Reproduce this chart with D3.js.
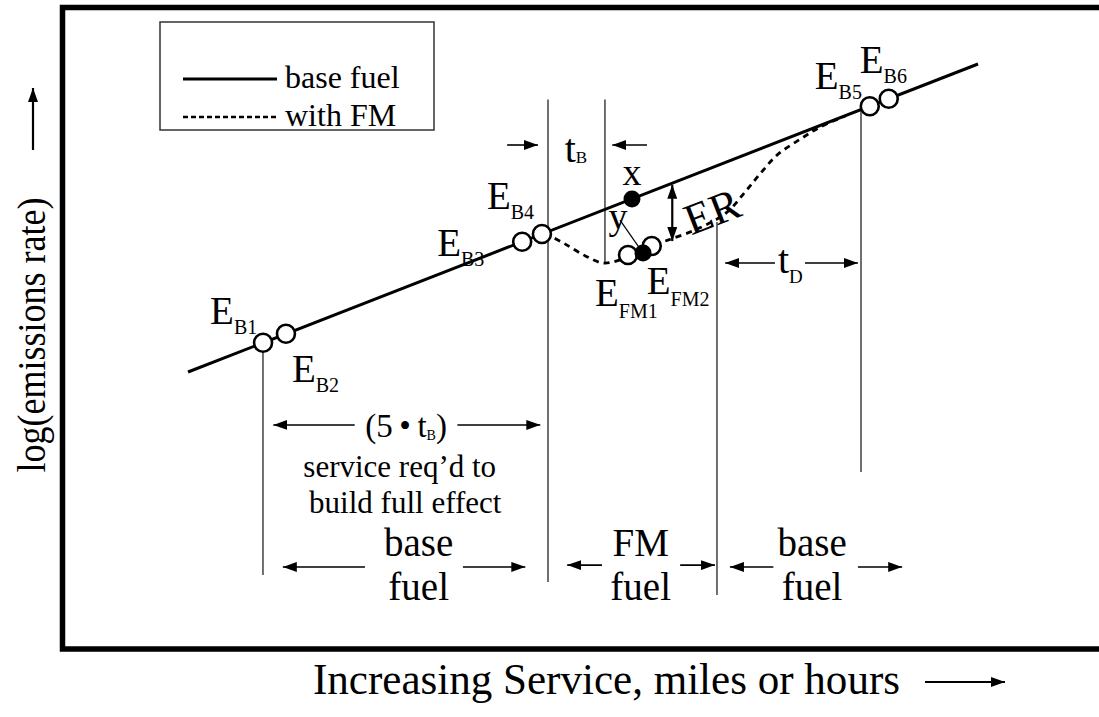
<!DOCTYPE html>
<html>
<head>
<meta charset="utf-8">
<script src="https://cdn.jsdelivr.net/npm/d3@7"></script>
<style>
  body { margin: 0; background: #ffffff; }
  svg { display: block; }
</style>
</head>
<body>
<div id="chart"></div>
<script>
// Base fuel trend (service units vs log emission units)
const baseService = [0, 100];
const baseLog = [0, 10];

// "with FM" dashed response
const fmService = [45.2, 47.7, 50.3, 52.5, 54.7, 57.2, 60.4, 64.8, 68.2, 70.5, 72.4, 74.6, 77.5, 80.0, 83.2];
const fmLog = [4.51, 4.16, 3.77, 3.54, 3.64, 3.96, 4.25, 4.68, 5.18, 5.84, 6.43, 7.05, 7.56, 7.95, 8.31];

// open circles on the base line
const basePointNames = ["B1", "B2", "B3", "B4", "B5", "B6"];
const basePointService = [9.5, 12.4, 42.3, 44.8, 86.3, 88.7];
const basePointLog = [0.95, 1.24, 4.23, 4.48, 8.63, 8.87];

// open circles on the FM curve
const fmPointNames = ["FM1", "FM2"];
const fmPointService = [55.7, 58.7];
const fmPointLog = [3.80, 4.09];

// filled points x and y
const solidNames = ["x", "y"];
const solidService = [56.2, 57.6];
const solidLog = [5.62, 3.86];

// vertical guide lines
const guideService = [9.49, 45.57, 52.78, 66.96, 85.19];
const guideTop = [0.97, 8.85, 8.85, 4.87, 8.51];
const guideBottom = [-6.59, -6.82, 3.57, -7.24, -3.25];

// span arrows: [from, to] in service units, at a log level
const arrowFrom = [40.4, 58.1, 74.3, 78.1, 21.1, 34.1, 22.4, 34.8, 52.4, 62.3, 74.1, 84.8];
const arrowTo = [44.3, 53.7, 68.0, 84.8, 10.8, 44.6, 12.0, 42.7, 48.0, 66.7, 68.6, 90.4];
const arrowLevel = [7.37, 7.37, 3.54, 3.54, -1.72, -1.72, -6.33, -6.33, -6.27, -6.27, -6.33, -6.33];

// ER double arrow
const erService = 61.3;
const erTop = 6.08;
const erBottom = 4.25;

// region labels
const regionTop = ["base", "FM", "base"];
const regionBottom = ["fuel", "fuel", "fuel"];
const regionCenter = [29.2, 57.3, 79.0];

const legendNames = ["base fuel", "with FM"];

const W = 1099, H = 717;
const serif = "'Liberation Serif', 'Times New Roman', Times, serif";

const svg = d3.select("#chart").append("svg")
  .attr("width", W).attr("height", H)
  .attr("font-family", serif);

const x = d3.scaleLinear().domain([0, 100]).range([188, 978]);
const y = d3.scaleLinear().domain([0, 10]).range([372, 64]);

const defs = svg.append("defs");
defs.append("marker")
  .attr("id", "head")
  .attr("viewBox", "0 0 14 10")
  .attr("refX", 14).attr("refY", 5)
  .attr("markerWidth", 14).attr("markerHeight", 10)
  .attr("markerUnits", "userSpaceOnUse")
  .attr("orient", "auto-start-reverse")
  .append("path").attr("d", "M0,0 L14,5 L0,10 Z").attr("fill", "#000");

// outer frame (runs off the right edge)
svg.append("rect")
  .attr("x", 62.5).attr("y", 7.5)
  .attr("width", 1100).attr("height", 641.5)
  .attr("fill", "none").attr("stroke", "#000").attr("stroke-width", 5.5);

// vertical guides
svg.append("g").selectAll("line")
  .data(guideService)
  .join("line")
  .attr("x1", d => x(d)).attr("x2", d => x(d))
  .attr("y1", (d, i) => y(guideTop[i]))
  .attr("y2", (d, i) => y(guideBottom[i]))
  .attr("stroke", "#222").attr("stroke-width", 1.3);

// base line
const line = d3.line().x(d => x(d[0])).y(d => y(d[1]));
svg.append("path")
  .attr("d", line(d3.zip(baseService, baseLog)))
  .attr("fill", "none").attr("stroke", "#000").attr("stroke-width", 3);

// FM dashed
const fmLine = d3.line().x(d => x(d[0])).y(d => y(d[1])).curve(d3.curveCatmullRom.alpha(0.5));
svg.append("path")
  .attr("d", fmLine(d3.zip(fmService, fmLog)))
  .attr("fill", "none").attr("stroke", "#000").attr("stroke-width", 2.8)
  .attr("stroke-dasharray", "6,5");

// span arrows
svg.append("g").selectAll("line")
  .data(arrowFrom)
  .join("line")
  .attr("x1", d => x(d)).attr("x2", (d, i) => x(arrowTo[i]))
  .attr("y1", (d, i) => y(arrowLevel[i])).attr("y2", (d, i) => y(arrowLevel[i]))
  .attr("stroke", "#000").attr("stroke-width", 1.6)
  .attr("marker-end", "url(#head)");

// ER arrow
svg.append("line")
  .attr("x1", x(erService)).attr("x2", x(erService))
  .attr("y1", y(erBottom)).attr("y2", y(erTop))
  .attr("stroke", "#000").attr("stroke-width", 2.2)
  .attr("marker-start", "url(#head)").attr("marker-end", "url(#head)");

// connector for y label
svg.append("line")
  .attr("x1", x(solidService[1]) - 23).attr("y1", y(solidLog[1]) - 33)
  .attr("x2", x(solidService[1])).attr("y2", y(solidLog[1]))
  .attr("stroke", "#000").attr("stroke-width", 1.2);

// circles
function openCircles(sv, lv) {
  svg.append("g").selectAll("circle")
    .data(sv)
    .join("circle")
    .attr("cx", d => x(d)).attr("cy", (d, i) => y(lv[i]))
    .attr("r", 9)
    .attr("fill", "#fff").attr("stroke", "#000").attr("stroke-width", 2.6);
}
openCircles(basePointService, basePointLog);
openCircles(fmPointService, fmPointLog);
svg.append("g").selectAll("circle")
  .data(solidService)
  .join("circle")
  .attr("cx", d => x(d)).attr("cy", (d, i) => y(solidLog[i]))
  .attr("r", 8.5).attr("fill", "#000");

// E labels
function subLabel(px, py, main, sub, size, subSize, subDy) {
  const t = svg.append("text").attr("x", px).attr("y", py).attr("font-size", size);
  t.append("tspan").text(main);
  t.append("tspan").attr("font-size", subSize).attr("dy", subDy).text(sub);
  return t;
}
const baseOffsets = [[-53, -19], [6, 48], [-85, 14], [-55, -25], [-55, -17], [-29, -26]];
basePointNames.forEach((n, i) => {
  subLabel(x(basePointService[i]) + baseOffsets[i][0], y(basePointLog[i]) + baseOffsets[i][1], "E", n, 39, 20, 10);
});
const fmOffsets = [[-33, 51], [-5, 48]];
fmPointNames.forEach((n, i) => {
  subLabel(x(fmPointService[i]) + fmOffsets[i][0], y(fmPointLog[i]) + fmOffsets[i][1], "E", n, 39, 20, 12);
});

// x / y point labels
svg.append("text").attr("x", x(solidService[0])).attr("y", y(solidLog[0]) - 14)
  .attr("text-anchor", "middle").attr("font-size", 38).text(solidNames[0]);
svg.append("text").attr("x", x(solidService[1]) - 25).attr("y", y(solidLog[1]) - 24)
  .attr("text-anchor", "middle").attr("font-size", 38).text(solidNames[1]);

// ER text
svg.append("text")
  .attr("transform", `translate(${x(erService) + 40},${y(5.2)}) rotate(-21)`)
  .attr("text-anchor", "middle").attr("dominant-baseline", "central")
  .attr("font-size", 44).text("ER");

// t_B, t_D, (5•t_B)
subLabel(x(49.2) - 12, y(7.37) + 17, "t", "B", 40, 17, 1);
subLabel(x(76.2) - 12, y(3.54) + 10, "t", "D", 40, 19, 10);
const fb = svg.append("text").attr("x", x(27.6)).attr("y", y(-1.72) + 12)
  .attr("text-anchor", "middle").attr("font-size", 33);
fb.append("tspan").text("(5\u2009\u2022\u2009t");
fb.append("tspan").attr("font-size", 14).attr("dy", 3).text("B");
fb.append("tspan").attr("dy", -3).text(")");

// explanatory text
svg.append("text").attr("x", x(26.8)).attr("y", 477)
  .attr("text-anchor", "middle").attr("font-size", 31).text("service req\u2019d to");
svg.append("text").attr("x", x(27.5)).attr("y", 513)
  .attr("text-anchor", "middle").attr("font-size", 31).text("build full effect");

// region labels
regionCenter.forEach((c, i) => {
  svg.append("text").attr("x", x(c)).attr("y", y(-6.33) - 11)
    .attr("text-anchor", "middle").attr("font-size", 39).text(regionTop[i]);
  svg.append("text").attr("x", x(c)).attr("y", y(-6.33) + 33)
    .attr("text-anchor", "middle").attr("font-size", 39).text(regionBottom[i]);
});

// legend
const lg = svg.append("g");
lg.append("rect").attr("x", 160).attr("y", 22).attr("width", 274).attr("height", 108)
  .attr("fill", "#fff").attr("stroke", "#333").attr("stroke-width", 1.5);
legendNames.forEach((n, i) => {
  const ly = 79 + i * 38;
  lg.append("line").attr("x1", 183).attr("x2", 277).attr("y1", ly).attr("y2", ly)
    .attr("stroke", "#000").attr("stroke-width", i ? 2.6 : 3)
    .attr("stroke-dasharray", i ? "5,3" : null);
  lg.append("text").attr("x", 285).attr("y", ly + 9).attr("font-size", 32).text(n);
});

// axis titles
svg.append("text").attr("x", 313).attr("y", 694)
  .attr("font-size", 44).attr("textLength", 587).attr("lengthAdjust", "spacingAndGlyphs")
  .text("Increasing Service, miles or hours");
svg.append("line").attr("x1", 925).attr("x2", 1005).attr("y1", 682).attr("y2", 682)
  .attr("stroke", "#000").attr("stroke-width", 2.2).attr("marker-end", "url(#head)");

svg.append("text")
  .attr("transform", "translate(45,335) rotate(-90)")
  .attr("text-anchor", "middle").attr("font-size", 40)
  .attr("textLength", 275).attr("lengthAdjust", "spacingAndGlyphs")
  .text("log(emissions rate)");
svg.append("line").attr("x1", 33).attr("x2", 33).attr("y1", 150).attr("y2", 88)
  .attr("stroke", "#000").attr("stroke-width", 2.2).attr("marker-end", "url(#head)");
</script>
</body>
</html>
